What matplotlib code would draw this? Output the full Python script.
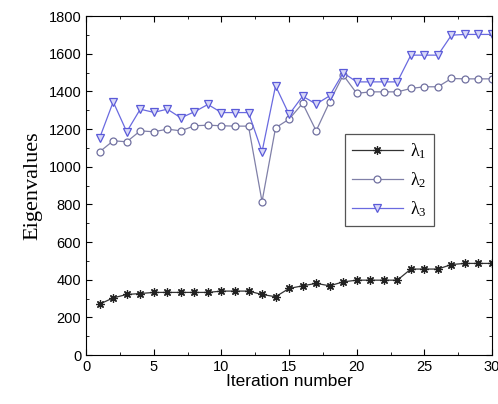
import matplotlib
matplotlib.use('Agg')
import matplotlib.pyplot as plt
from matplotlib.ticker import MultipleLocator

iterations = list(range(1, 31))
lambda1 = [271, 304, 322, 327, 333, 333, 333, 333, 333, 340, 340, 340, 322, 310, 354,
           368, 381, 368, 389, 398, 398, 398, 398, 457, 457, 457, 481, 487, 487, 487]
lambda2 = [1080, 1138, 1133, 1191, 1186, 1200, 1191, 1218, 1221, 1218, 1216, 1216, 815, 1207, 1253,
           1337, 1191, 1345, 1487, 1390, 1398, 1398, 1398, 1416, 1425, 1425, 1469, 1467, 1467, 1467]
lambda3 = [1154, 1345, 1186, 1306, 1289, 1306, 1260, 1292, 1331, 1288, 1288, 1288, 1080, 1430, 1278,
           1375, 1333, 1377, 1499, 1451, 1451, 1451, 1451, 1593, 1593, 1593, 1699, 1703, 1703, 1703]

plt.rcParams['mathtext.fontset'] = 'custom'
plt.rcParams['mathtext.rm'] = 'Liberation Serif'
plt.rcParams['mathtext.it'] = 'Liberation Serif'

fig = plt.figure(figsize=(4.98, 4.04), dpi=100)
ax = fig.add_axes([0.173, 0.121, 0.815, 0.839])

ax.plot(iterations, lambda1, color='#333333', lw=0.9, marker=(8, 2, 0), ms=6,
        mec='#222222', mew=0.9, label=r'$\lambda_1$')
ax.plot(iterations, lambda2, color='#8080a8', lw=0.9, marker='o', ms=5,
        mfc='white', mec='#7070a0', mew=0.9, label=r'$\lambda_2$')
ax.plot(iterations, lambda3, color='#6a6ae0', lw=0.9, marker='v', ms=5.5,
        mfc='#d8d8f8', mec='#5a5ad8', mew=0.9, label=r'$\lambda_3$')

ax.set_xlim(0, 30)
ax.set_ylim(0, 1800)
ax.xaxis.set_major_locator(MultipleLocator(5))
ax.xaxis.set_minor_locator(MultipleLocator(2.5))
ax.yaxis.set_major_locator(MultipleLocator(200))
ax.yaxis.set_minor_locator(MultipleLocator(100))
ax.tick_params(which='both', direction='in', top=True, right=True, labelsize=10.5)
ax.tick_params(which='major', length=4)
ax.tick_params(which='minor', length=2)
for lab in ax.get_xticklabels() + ax.get_yticklabels():
    lab.set_fontfamily('Liberation Sans')

ax.set_xlabel('Iteration number', fontsize=12.5, family='Liberation Sans', labelpad=0)
ax.set_ylabel('Eigenvalues', fontsize=16, family='Liberation Serif', labelpad=4)

leg = ax.legend(loc='lower left', bbox_to_anchor=(0.615, 0.355), fancybox=False,
                edgecolor='#555555', framealpha=1, fontsize=13, handlelength=2.8,
                borderpad=0.4, labelspacing=0.5, handletextpad=0.4)
leg.get_frame().set_linewidth(0.9)

fig.savefig('out.png', dpi=100)
plt.close(fig)
